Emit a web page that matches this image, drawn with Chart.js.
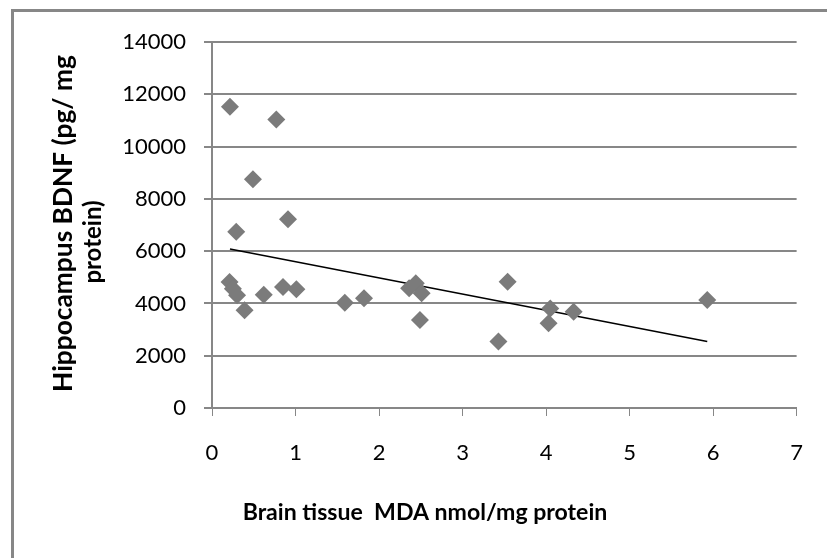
<!DOCTYPE html>
<html>
<head>
<meta charset="utf-8">
<script src="https://cdn.jsdelivr.net/npm/chart.js@4"></script>
<style>
  html, body { margin: 0; padding: 0; background: #fff; overflow: hidden; }
  #wrap { position: relative; width: 827px; height: 558px; }
  #frame {
    position: absolute; left: 11px; top: 9px; width: 1000px; height: 1000px;
    border-left: 3px solid #878787; border-top: 3px solid #878787;
  }
  canvas { position: absolute; left: 0; top: 0; }
</style>
</head>
<body>
<div id="wrap">
  <div id="frame"></div>
  <canvas id="chart" width="827" height="558"></canvas>
</div>
<script>
// MDA (x) vs BDNF (y)
const mdaValues = [0.21, 0.25, 0.30, 0.39, 0.62, 0.85, 1.01, 0.215, 0.77, 0.49, 0.29, 0.91,
  1.59, 1.82, 2.36, 2.44, 2.51, 2.49, 3.54, 3.43, 4.05, 4.03, 4.33, 5.93];
const bdnfValues = [4820, 4560, 4310, 3740, 4330, 4630, 4540, 11520, 11040, 8750, 6740, 7220,
  4030, 4200, 4580, 4770, 4390, 3370, 4830, 2540, 3810, 3240, 3680, 4130];

// trend line end points
const trendX = [0.215, 5.93];
const trendY = [6080, 2540];

const xTicks = [0, 1, 2, 3, 4, 5, 6, 7];
const yTicks = [0, 2000, 4000, 6000, 8000, 10000, 12000, 14000];

const xTitle = "Brain tissue  MDA nmol/mg protein";
const yTitle = ["Hippocampus BDNF (pg/ mg", "protein)"];

const gridColor = "#878787";
const fontFamily = "Lato, 'Open Sans', sans-serif";
const tickFont = { family: fontFamily, size: 22 };

// draw text with its width squeezed/stretched to a set length
function fitText(ctx, text, cx, cy, width, rotate) {
  ctx.save();
  ctx.font = "bold 23px " + fontFamily;
  const w = ctx.measureText(text).width;
  const size = 23 * width / w;
  ctx.font = "bold " + size.toFixed(1) + "px " + fontFamily;
  ctx.translate(cx, cy);
  if (rotate) ctx.rotate(-Math.PI / 2);
  ctx.fillText(text, 0, 0);
  ctx.restore();
}

// axis titles drawn at fixed spots (the original is not centred on the plot)
const titlePlugin = {
  id: "titles",
  afterDraw(chart) {
    const ctx = chart.ctx;
    ctx.save();
    ctx.fillStyle = "#000";
    ctx.textBaseline = "middle";
    ctx.textAlign = "center";
    fitText(ctx, xTitle, 425, 513, 364, false);
    fitText(ctx, yTitle[0], 63.5, 223.5, 337, true);
    ctx.font = "bold 24px " + fontFamily;
    ctx.translate(93, 242);
    ctx.rotate(-Math.PI / 2);
    ctx.fillText(yTitle[1], 0, 0);
    ctx.restore();
  }
};

const points = mdaValues.map((x, i) => ({ x: x, y: bdnfValues[i] }));
const trend = trendX.map((x, i) => ({ x: x, y: trendY[i] }));

new Chart(document.getElementById("chart"), {
  type: "scatter",
  data: {
    datasets: [
      {
        label: "BDNF",
        data: points,
        pointStyle: "rectRot",
        pointRadius: 9,
        pointBackgroundColor: "#7b7b7b",
        pointBorderColor: "#7b7b7b",
        pointBorderWidth: 0
      },
      {
        label: "Linear",
        type: "line",
        data: trend,
        borderColor: "#000",
        borderWidth: 1.5,
        pointRadius: 0,
        fill: false
      }
    ]
  },
  options: {
    responsive: false,
    animation: false,
    devicePixelRatio: 1,
    layout: { padding: { left: 0, top: 42, right: 22, bottom: 0 } },
    plugins: { legend: { display: false }, tooltip: { enabled: false } },
    scales: {
      x: {
        type: "linear",
        min: 0,
        max: 7,
        afterBuildTicks: (scale) => { scale.ticks = xTicks.map(v => ({ value: v })); },
        afterFit: (scale) => { scale.height = 150; },
        grid: { drawOnChartArea: false, drawTicks: true, tickLength: 8, color: gridColor, lineWidth: 1 },
        border: { color: gridColor, width: 2 },
        ticks: { color: "#000", font: tickFont, padding: 24, maxRotation: 0, callback: v => String(v) }
      },
      y: {
        type: "linear",
        min: 0,
        max: 14000,
        afterBuildTicks: (scale) => { scale.ticks = yTicks.map(v => ({ value: v })); },
        afterFit: (scale) => { scale.width = 212; },
        grid: { color: gridColor, lineWidth: 2, tickLength: 8 },
        border: { color: gridColor, width: 2 },
        ticks: { color: "#000", font: tickFont, padding: 18, callback: v => String(v) }
      }
    }
  },
  plugins: [titlePlugin]
});
</script>
</body>
</html>
